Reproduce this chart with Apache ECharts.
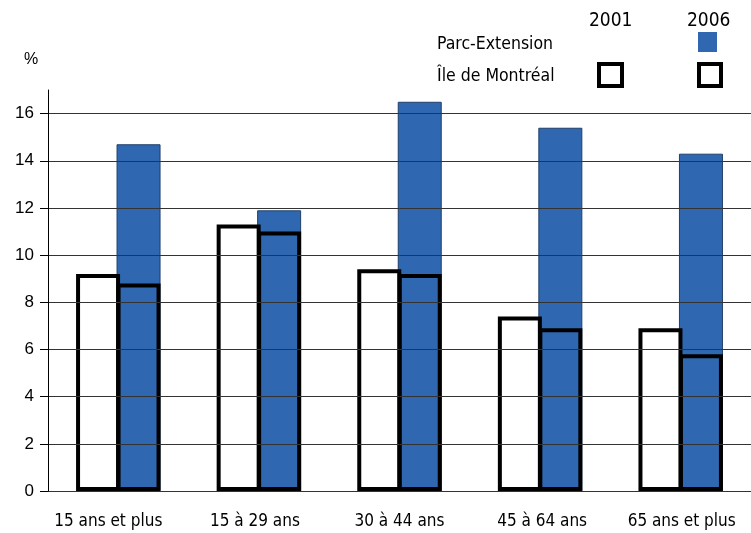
<!DOCTYPE html>
<html>
<head>
<meta charset="utf-8">
<script src="https://cdn.jsdelivr.net/npm/echarts@6/dist/echarts.min.js"></script>
<style>
html,body{margin:0;padding:0;background:#fff;}
#c{width:751px;height:533px;}
</style>
</head>
<body>
<div id="c"></div>
<script>
const categories = ['15 ans et plus', '15 à 29 ans', '30 à 44 ans', '45 à 64 ans', '65 ans et plus'];
const parcExt2006 = [14.7, 11.9, 16.5, 15.4, 14.3];
const ile2001 = [9.2, 11.3, 9.4, 7.4, 6.9];
const ile2006 = [8.8, 11.0, 9.2, 6.9, 5.8];
const yTicks = [0, 2, 4, 6, 8, 10, 12, 14, 16];

const narrow = "'Liberation Sans Narrow', 'DejaVu Sans Condensed', 'Liberation Sans', sans-serif";
const blue = '#2f68b1';
const labelPad = [[0, 20, 0, 0], [0, 8, 0, 0], [0, 0, 0, 0], [0, 0, 0, 4], [0, 0, 0, 2]];

const chart = echarts.init(document.getElementById('c'), null, {renderer: 'canvas'});
const gridColors = yTicks.map(() => '#333').concat(['rgba(0,0,0,0)']);

chart.setOption({
  animation: false,
  backgroundColor: '#fff',
  grid: {left: 48, right: 0, top: 90, bottom: 42, containLabel: false},
  xAxis: [
    {
      type: 'category',
      data: categories.map((c, i) => ({value: c, textStyle: {padding: labelPad[i]}})),
      axisLine: {show: true, lineStyle: {color: '#000', width: 1}},
      axisTick: {show: false},
      axisLabel: {interval: 0, margin: 22, fontFamily: narrow, fontSize: 17, color: '#000'},
      splitLine: {show: false}
    },
    {
      type: 'category', data: categories, show: false
    }
  ],
  yAxis: {
    type: 'value', min: 0, max: 17, interval: 2, z: 10,
    axisLine: {show: true, lineStyle: {color: '#000', width: 1}},
    axisTick: {show: true, length: 8, inside: false, customValues: yTicks, lineStyle: {color: '#000'}},
    axisLabel: {customValues: yTicks, margin: 14, fontFamily: "'Liberation Sans', Arial, sans-serif", fontSize: 17, color: '#000'},
    splitLine: {show: true, lineStyle: {color: gridColors, width: 1}}
  },
  legend: [
    {data: ['Parc-Extension 2006'], left: 698, top: 32, itemWidth: 19, itemHeight: 20, padding: 0,
     icon: 'rect', selectedMode: false, formatter: () => '', itemStyle: {borderWidth: 0}},
    {data: ['Île de Montréal 2001'], left: 597, top: 62, itemWidth: 23, itemHeight: 22, padding: 0,
     icon: 'rect', selectedMode: false, formatter: () => '',
     itemStyle: {color: '#fff', borderColor: '#000', borderWidth: 4}},
    {data: ['Île de Montréal 2006'], left: 697, top: 62, itemWidth: 22, itemHeight: 22, padding: 0,
     icon: 'rect', selectedMode: false, formatter: () => '',
     itemStyle: {color: '#fff', borderColor: '#000', borderWidth: 4}}
  ],
  graphic: [
    {type: 'text', left: 24, top: 52, style: {text: '%', font: "16px 'Liberation Sans', Arial, sans-serif", fill: '#000'}},
    {type: 'text', left: 589, top: 12, style: {text: '2001', font: "19px " + narrow, fill: '#000'}},
    {type: 'text', left: 687, top: 12, style: {text: '2006', font: "19px " + narrow, fill: '#000'}},
    {type: 'text', left: 437, top: 35, style: {text: 'Parc-Extension', font: "17.5px " + narrow, fill: '#000'}},
    {type: 'text', left: 437, top: 67, style: {text: 'Île de Montréal', font: "17.5px " + narrow, fill: '#000'}}
  ],
  series: [
    {
      name: 'Île de Montréal 2001', type: 'bar', xAxisIndex: 0, data: ile2001,
      barWidth: 44, barGap: '-8%', z: 2,
      itemStyle: {color: '#fff', borderColor: '#000', borderWidth: 4}
    },
    {
      name: 'Parc-Extension 2006', type: 'bar', xAxisIndex: 0, data: parcExt2006,
      barWidth: 44, barGap: '-8%', z: 1,
      itemStyle: {color: blue, borderColor: '#1f3f6a', borderWidth: 1}
    },
    {
      name: 'pad', type: 'bar', xAxisIndex: 1, data: categories.map(() => '-'),
      barWidth: 44, barGap: '-8%'
    },
    {
      name: 'Île de Montréal 2006', type: 'bar', xAxisIndex: 1, data: ile2006,
      barWidth: 44, barGap: '-8%', z: 3,
      itemStyle: {color: 'rgba(0,0,0,0)', borderColor: '#000', borderWidth: 4}
    }
  ]
});
</script>
</body>
</html>
